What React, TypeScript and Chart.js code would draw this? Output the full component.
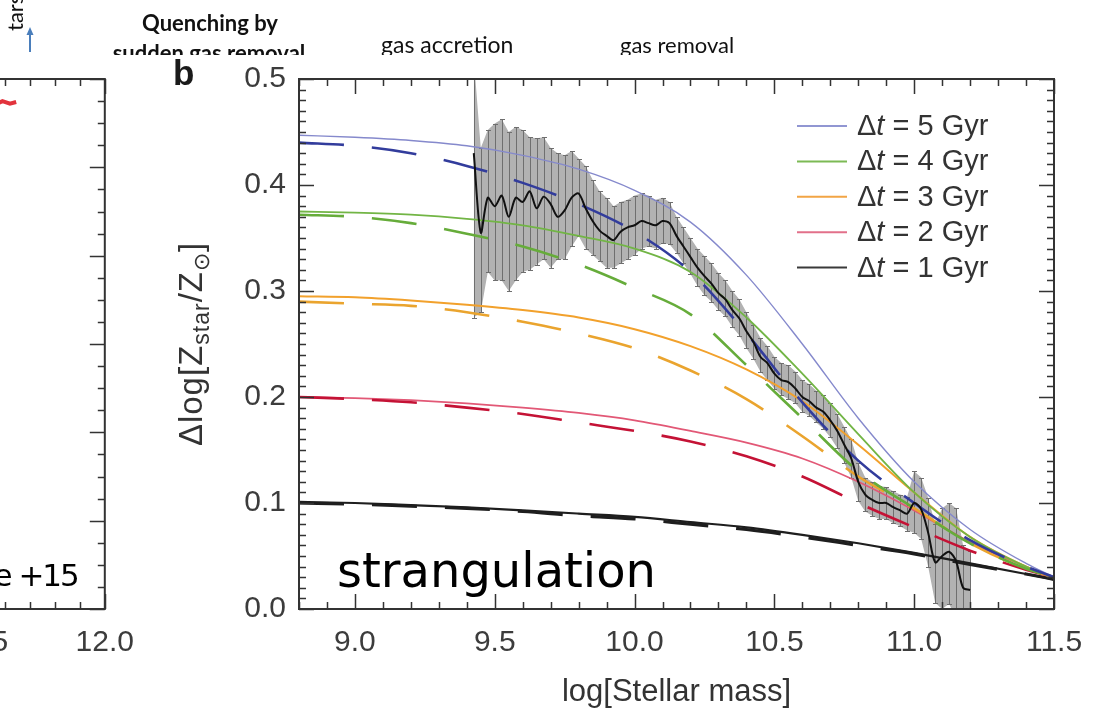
import React, { useEffect, useRef } from "react";
import { Chart, registerables } from "chart.js";

Chart.register(...registerables);

const SANS = '"Liberation Sans", Arial, Helvetica, sans-serif';
const HUMANIST = 'Lato, "Open Sans", sans-serif';
const HAND = '"DejaVu Sans", sans-serif';

// ---- model curves: metallicity offset vs. stellar mass ----
const massGrid = [8.8, 9.0, 9.2, 9.4, 9.6, 9.8, 10.0, 10.2, 10.4, 10.6, 10.8, 11.0, 11.2, 11.4, 11.5];

const solid5 = [0.447, 0.445, 0.442, 0.437, 0.428, 0.415, 0.395, 0.365, 0.315, 0.25, 0.18, 0.12, 0.075, 0.043, 0.03];
const dashed5 = [0.44, 0.437, 0.43, 0.418, 0.402, 0.382, 0.356, 0.318, 0.26, 0.195, 0.14, 0.1, 0.065, 0.04, 0.03];
const solid4 = [0.375, 0.374, 0.372, 0.368, 0.362, 0.352, 0.34, 0.318, 0.275, 0.222, 0.165, 0.11, 0.068, 0.04, 0.03];
const dashed4 = [0.372, 0.37, 0.364, 0.354, 0.342, 0.325, 0.303, 0.278, 0.23, 0.18, 0.13, 0.095, 0.062, 0.038, 0.03];
const solid3 = [0.295, 0.294, 0.291, 0.287, 0.282, 0.275, 0.264, 0.248, 0.226, 0.196, 0.155, 0.11, 0.068, 0.04, 0.03];
const dashed3 = [0.29, 0.288, 0.286, 0.28, 0.271, 0.26, 0.246, 0.225, 0.198, 0.163, 0.125, 0.095, 0.062, 0.038, 0.03];
const solid2 = [0.2, 0.199, 0.197, 0.194, 0.19, 0.185, 0.178, 0.168, 0.157, 0.142, 0.12, 0.093, 0.063, 0.04, 0.03];
const dashed2 = [0.2, 0.198, 0.195, 0.19, 0.184, 0.176, 0.168, 0.158, 0.144, 0.125, 0.1, 0.077, 0.055, 0.037, 0.03];
const solid1 = [0.101, 0.1, 0.098, 0.096, 0.093, 0.09, 0.087, 0.082, 0.077, 0.07, 0.062, 0.053, 0.043, 0.033, 0.028];
const dashed1 = [0.1, 0.099, 0.097, 0.095, 0.092, 0.088, 0.085, 0.08, 0.075, 0.068, 0.06, 0.052, 0.042, 0.033, 0.028];

// ---- observed stacked difference with its error bars ----
const massObs = [
  9.425, 9.45, 9.475, 9.5, 9.525, 9.55, 9.575, 9.6, 9.625, 9.65,
  9.675, 9.7, 9.725, 9.75, 9.775, 9.8, 9.825, 9.85, 9.875, 9.9,
  9.925, 9.95, 9.975, 10.0, 10.025, 10.05, 10.075, 10.1, 10.125, 10.15,
  10.175, 10.2, 10.225, 10.25, 10.275, 10.3, 10.325, 10.35, 10.375, 10.4,
  10.425, 10.45, 10.475, 10.5, 10.525, 10.55, 10.575, 10.6, 10.625, 10.65,
  10.675, 10.7, 10.725, 10.75, 10.775, 10.8, 10.825, 10.85, 10.875, 10.9,
  10.925, 10.95, 10.975, 11.0, 11.025, 11.05, 11.075, 11.1, 11.125, 11.15,
  11.175, 11.2,
];
const metalObs = [
  0.43, 0.355, 0.388, 0.38, 0.39, 0.37, 0.388, 0.384, 0.394, 0.378,
  0.389, 0.382, 0.37, 0.376, 0.388, 0.392, 0.378, 0.366, 0.357, 0.352,
  0.348, 0.356, 0.36, 0.362, 0.366, 0.364, 0.362, 0.366, 0.364, 0.352,
  0.342, 0.332, 0.322, 0.314, 0.307, 0.298, 0.292, 0.282, 0.274, 0.262,
  0.252, 0.238, 0.232, 0.222, 0.216, 0.214, 0.208, 0.2, 0.196, 0.19,
  0.186, 0.178, 0.168, 0.155, 0.142, 0.12, 0.108, 0.103, 0.1, 0.1,
  0.096, 0.093, 0.09, 0.1, 0.094, 0.072, 0.044, 0.05, 0.054, 0.045,
  0.02, 0.018,
];
const upperObs = [
  0.52, 0.435, 0.452, 0.458, 0.462, 0.45, 0.455, 0.452, 0.445, 0.444,
  0.445, 0.435, 0.43, 0.428, 0.432, 0.425, 0.418, 0.405, 0.394, 0.388,
  0.38, 0.384, 0.386, 0.39, 0.392, 0.39, 0.386, 0.388, 0.384, 0.37,
  0.36, 0.35, 0.34, 0.333, 0.326, 0.317, 0.31, 0.3, 0.292, 0.28,
  0.268, 0.256, 0.248, 0.238, 0.232, 0.23, 0.224, 0.216, 0.212, 0.206,
  0.202, 0.194, 0.184, 0.172, 0.16, 0.138, 0.124, 0.12, 0.116, 0.115,
  0.111, 0.108, 0.106, 0.13, 0.124, 0.105, 0.08, 0.095, 0.1, 0.095,
  0.06, 0.055,
];
const lowerObs = [
  0.275, 0.28, 0.318, 0.31, 0.31, 0.3, 0.31, 0.318, 0.32, 0.325,
  0.33, 0.322, 0.33, 0.33, 0.342, 0.352, 0.34, 0.334, 0.328, 0.322,
  0.322, 0.326, 0.33, 0.334, 0.34, 0.342, 0.34, 0.345, 0.344, 0.336,
  0.326, 0.316, 0.305, 0.296, 0.29, 0.282, 0.276, 0.266, 0.258, 0.246,
  0.236, 0.224, 0.216, 0.208, 0.202, 0.198, 0.194, 0.186, 0.182, 0.176,
  0.17, 0.162, 0.152, 0.138, 0.124, 0.102, 0.092, 0.088, 0.085, 0.085,
  0.081, 0.078, 0.074, 0.072, 0.066, 0.04, 0.006, 0.0, 0.005, -0.01,
  -0.02, -0.02,
];

const xTickValues = [9.0, 9.5, 10.0, 10.5, 11.0, 11.5];
const yTickValues = [0.0, 0.1, 0.2, 0.3, 0.4, 0.5];
const legendLabels = ["Δt = 5 Gyr", "Δt = 4 Gyr", "Δt = 3 Gyr", "Δt = 2 Gyr", "Δt = 1 Gyr"];
const legendColors = ["#9196d2", "#7cba55", "#f2a545", "#e2708a", "#3a3a3a"];

// ---- neighbouring panel (only its right edge is in view) ----
const leftTickValues = [9.0, 9.5, 10.0, 10.5, 11.0, 11.5, 12.0];
const leftMass = [11.56, 11.59, 11.62, 11.645];
const leftValue = [0.571, 0.575, 0.572, 0.574];

const pairs = (xs: number[], ys: number[]) => xs.map((x, i) => ({ x, y: ys[i] }));

const curveStyles = [
  { values: dashed5, color: "#323c9c", width: 2.6, dashed: true },
  { values: dashed4, color: "#66ac3a", width: 2.6, dashed: true },
  { values: dashed3, color: "#eaa42e", width: 2.6, dashed: true },
  { values: dashed2, color: "#c41235", width: 2.6, dashed: true },
  { values: dashed1, color: "#1e1e1e", width: 3.2, dashed: true },
  { values: solid5, color: "#8589cc", width: 1.4, dashed: false },
  { values: solid4, color: "#72b545", width: 1.8, dashed: false },
  { values: solid3, color: "#f2a12c", width: 2.0, dashed: false },
  { values: solid2, color: "#e25876", width: 1.8, dashed: false },
  { values: solid1, color: "#1e1e1e", width: 2.2, dashed: false },
];

// Inward-pointing ticks on all four sides plus a closed frame.
const axisFrame = {
  id: "axisFrame",
  afterDatasetsDraw(chart: any, _args: any, opts: any) {
    const { ctx, chartArea: a } = chart;
    const xs = chart.scales.x;
    const ys = chart.scales.y;
    const steps = (min: number, max: number, step: number) => {
      const out: number[] = [];
      for (let i = Math.ceil(min / step - 1e-6); i * step <= max + 1e-6; i++) out.push(i * step);
      return out;
    };
    const isMajor = (v: number, major: number) => Math.abs(v / major - Math.round(v / major)) < 1e-4;
    ctx.save();
    ctx.strokeStyle = "#333";
    ctx.lineWidth = 1.5;
    ctx.beginPath();
    for (const v of steps(xs.min, xs.max, opts.xMinor)) {
      const px = Math.round(xs.getPixelForValue(v)) + 0.5;
      const len = isMajor(v, opts.xMajor) ? opts.majorLen : opts.minorLen;
      ctx.moveTo(px, a.bottom);
      ctx.lineTo(px, a.bottom - len);
      ctx.moveTo(px, a.top);
      ctx.lineTo(px, a.top + len);
    }
    for (const v of steps(ys.min, ys.max, opts.yMinor)) {
      const py = Math.round(ys.getPixelForValue(v)) + 0.5;
      const len = isMajor(v, opts.yMajor) ? opts.majorLen : opts.minorLen;
      ctx.moveTo(a.left, py);
      ctx.lineTo(a.left + len, py);
      ctx.moveTo(a.right, py);
      ctx.lineTo(a.right - len, py);
    }
    ctx.stroke();
    ctx.lineWidth = 2;
    ctx.strokeRect(a.left, a.top, a.right - a.left, a.bottom - a.top);
    ctx.restore();
  },
};

// Vertical error bars of the observed curve, drawn right after the grey band.
const errorBars = {
  id: "errorBars",
  afterDatasetDraw(chart: any, args: any) {
    if (args.index !== 1) return;
    const { ctx, chartArea: a } = chart;
    const xs = chart.scales.x;
    const ys = chart.scales.y;
    const up = chart.data.datasets[0].data;
    const lo = chart.data.datasets[1].data;
    ctx.save();
    ctx.beginPath();
    ctx.rect(a.left, a.top, a.right - a.left, a.bottom - a.top);
    ctx.clip();
    ctx.strokeStyle = "#6f6f6f";
    ctx.lineWidth = 1;
    ctx.beginPath();
    up.forEach((p: any, i: number) => {
      const px = Math.round(xs.getPixelForValue(p.x)) + 0.5;
      const t = Math.round(ys.getPixelForValue(p.y)) + 0.5;
      const b = Math.round(ys.getPixelForValue(lo[i].y)) + 0.5;
      ctx.moveTo(px, t);
      ctx.lineTo(px, b);
      ctx.moveTo(px - 2.5, t);
      ctx.lineTo(px + 2.5, t);
      ctx.moveTo(px - 2.5, b);
      ctx.lineTo(px + 2.5, b);
    });
    ctx.stroke();
    ctx.restore();
  },
};

// Slide captions, panel letter, axis titles, legend and annotation.
const figureText = {
  id: "figureText",
  beforeDraw(chart: any) {
    const { ctx } = chart;
    ctx.save();
    ctx.beginPath();
    ctx.rect(0, 0, chart.width, 55);
    ctx.clip();
    ctx.fillStyle = "#111";
    ctx.textBaseline = "alphabetic";
    ctx.textAlign = "center";
    ctx.font = `bold 22px ${HUMANIST}`;
    ctx.fillText("Quenching by", 210, 31);
    ctx.fillText("sudden gas removal", 209, 61);
    ctx.textAlign = "left";
    ctx.font = `23px ${HUMANIST}`;
    ctx.fillText("gas accretion", 381, 53);
    ctx.font = `22px ${HUMANIST}`;
    ctx.fillText("gas removal", 620, 53);
    // rotated caption fragment
    ctx.save();
    ctx.translate(23, 31);
    ctx.rotate(-Math.PI / 2);
    ctx.font = `22px ${HUMANIST}`;
    ctx.fillText("tars", 0, 0);
    ctx.restore();
    // small blue arrow
    ctx.strokeStyle = "#4a7ebb";
    ctx.fillStyle = "#4a7ebb";
    ctx.lineWidth = 2;
    ctx.beginPath();
    ctx.moveTo(30, 52);
    ctx.lineTo(30, 34);
    ctx.stroke();
    ctx.beginPath();
    ctx.moveTo(30, 27);
    ctx.lineTo(26.5, 35);
    ctx.lineTo(33.5, 35);
    ctx.closePath();
    ctx.fill();
    ctx.restore();
  },
  afterDraw(chart: any) {
    const { ctx, chartArea: a } = chart;
    ctx.save();
    ctx.fillStyle = "#1a1a1a";
    // panel letter
    ctx.textAlign = "left";
    ctx.textBaseline = "alphabetic";
    ctx.font = `bold 35px ${SANS}`;
    ctx.fillText("b", 173, 85);
    // x title
    ctx.fillStyle = "#333";
    ctx.textAlign = "center";
    ctx.font = `31px ${SANS}`;
    ctx.fillText("log[Stellar mass]", (a.left + a.right) / 2, 701);
    // y title with subscripts
    const pieces: [string, number, number][] = [
      ["Δlog[Z", 33, 0],
      ["star", 23, 7],
      ["/Z", 33, 0],
      ["⊙", 22, 7],
      ["]", 33, 0],
    ];
    ctx.save();
    (ctx as any).letterSpacing = "1px";
    let total = 0;
    for (const [s, f] of pieces) {
      ctx.font = `${f}px ${SANS}`;
      total += ctx.measureText(s).width;
    }
    ctx.translate(202, (a.top + a.bottom) / 2);
    ctx.rotate(-Math.PI / 2);
    ctx.textAlign = "left";
    let cx = -total / 2;
    for (const [s, f, shift] of pieces) {
      ctx.font = `${f}px ${SANS}`;
      ctx.fillText(s, cx, shift);
      cx += ctx.measureText(s).width;
    }
    ctx.restore();
    // legend
    const lx = a.right - 257;
    ctx.textAlign = "left";
    ctx.textBaseline = "middle";
    legendLabels.forEach((label, i) => {
      const ly = a.top + 47 + i * 35.4;
      ctx.strokeStyle = legendColors[i];
      ctx.lineWidth = 2;
      ctx.beginPath();
      ctx.moveTo(lx, ly);
      ctx.lineTo(lx + 50, ly);
      ctx.stroke();
      ctx.fillStyle = "#333";
      let tx = lx + 60;
      const ty = ly + 1;
      ctx.font = `29px ${SANS}`;
      ctx.fillText(label[0], tx, ty);
      tx += ctx.measureText(label[0]).width;
      ctx.font = `italic 29px ${SANS}`;
      ctx.fillText(label[1], tx, ty);
      tx += ctx.measureText(label[1]).width;
      ctx.font = `29px ${SANS}`;
      (ctx as any).wordSpacing = "5px";
      ctx.fillText(label.slice(2), tx, ty);
      (ctx as any).wordSpacing = "0px";
    });
    // annotation
    ctx.fillStyle = "#000";
    ctx.textBaseline = "alphabetic";
    ctx.font = `48px ${HAND}`;
    ctx.fillText("strangulation", 337, 587);
    ctx.restore();
  },
};

const leftText = {
  id: "leftText",
  afterDraw(chart: any) {
    const { ctx, chartArea: a } = chart;
    ctx.save();
    ctx.fillStyle = "#000";
    ctx.textAlign = "right";
    ctx.textBaseline = "alphabetic";
    ctx.font = `31px ${HAND}`;
    (ctx as any).letterSpacing = "-2px";
    ctx.fillText("e +15", a.right - 27, 586);
    ctx.restore();
  },
};

const tickFont = { family: SANS, size: 30 };

function mainConfig(): any {
  const datasets: any[] = [
    {
      data: pairs(massObs, upperObs),
      borderColor: "rgba(0,0,0,0)",
      borderWidth: 0,
      backgroundColor: "#b2b2b2",
      fill: "+1",
      pointRadius: 0,
      order: 12,
    },
    {
      data: pairs(massObs, lowerObs),
      borderColor: "rgba(0,0,0,0)",
      borderWidth: 0,
      fill: false,
      pointRadius: 0,
      order: 11,
    },
    ...curveStyles.map((c) => ({
      data: pairs(massGrid, c.values),
      borderColor: c.color,
      borderWidth: c.width,
      borderDash: c.dashed ? [45, 28] : [],
      cubicInterpolationMode: "monotone",
      pointRadius: 0,
      fill: false,
      order: 5,
    })),
    {
      data: pairs(massObs, metalObs),
      borderColor: "#111",
      borderWidth: 2,
      tension: 0.3,
      pointRadius: 0,
      fill: false,
      order: 0,
    },
  ];
  return {
    type: "line",
    data: { datasets },
    plugins: [axisFrame, errorBars, figureText],
    options: {
      animation: false,
      responsive: false,
      maintainAspectRatio: false,
      devicePixelRatio: 1,
      events: [],
      layout: { padding: { left: 0, right: 46, top: 79, bottom: 0 } },
      plugins: {
        legend: { display: false },
        tooltip: { enabled: false },
        axisFrame: { xMajor: 0.5, xMinor: 0.1, yMajor: 0.1, yMinor: 0.01, majorLen: 15, minorLen: 7 },
      },
      scales: {
        x: {
          type: "linear",
          min: 8.8,
          max: 11.5,
          afterBuildTicks: (s: any) => {
            s.ticks = xTickValues.map((v) => ({ value: v }));
          },
          afterFit: (s: any) => {
            s.height = 103;
          },
          grid: { display: false, drawTicks: false },
          border: { display: false },
          ticks: {
            font: tickFont,
            color: "#3c3c3c",
            padding: 16,
            autoSkip: false,
            maxRotation: 0,
            callback: (v: any) => Number(v).toFixed(1),
          },
        },
        y: {
          type: "linear",
          min: 0,
          max: 0.5,
          afterBuildTicks: (s: any) => {
            s.ticks = yTickValues.map((v) => ({ value: v }));
          },
          afterFit: (s: any) => {
            s.width = 299;
          },
          grid: { display: false, drawTicks: false },
          border: { display: false },
          ticks: {
            font: tickFont,
            color: "#3c3c3c",
            padding: 13,
            autoSkip: false,
            callback: (v: any) => Number(v).toFixed(1),
          },
        },
      },
    },
  };
}

function leftConfig(): any {
  return {
    type: "line",
    data: {
      datasets: [
        {
          data: pairs(leftMass, leftValue),
          borderColor: "#e2333c",
          borderWidth: 4,
          pointRadius: 0,
          fill: false,
        },
      ],
    },
    plugins: [axisFrame, leftText],
    options: {
      animation: false,
      responsive: false,
      maintainAspectRatio: false,
      devicePixelRatio: 1,
      events: [],
      layout: { padding: { left: 0, right: 44, top: 79, bottom: 0 } },
      plugins: {
        legend: { display: false },
        tooltip: { enabled: false },
        axisFrame: { xMajor: 0.5, xMinor: 0.1, yMajor: 0.1, yMinor: 0.025, majorLen: 15, minorLen: 7 },
      },
      scales: {
        x: {
          type: "linear",
          min: 8.8,
          max: 12.0,
          afterBuildTicks: (s: any) => {
            s.ticks = leftTickValues.map((v) => ({ value: v }));
          },
          afterFit: (s: any) => {
            s.height = 103;
          },
          grid: { display: false, drawTicks: false },
          border: { display: false },
          ticks: {
            font: tickFont,
            color: "#3c3c3c",
            padding: 16,
            autoSkip: false,
            maxRotation: 0,
            callback: (v: any) => Number(v).toFixed(1),
          },
        },
        y: {
          type: "linear",
          min: 0,
          max: 0.6,
          afterFit: (s: any) => {
            s.width = 26;
          },
          grid: { display: false, drawTicks: false },
          border: { display: false },
          ticks: { display: false },
        },
      },
    },
  };
}

export default function App() {
  const leftRef = useRef<HTMLCanvasElement>(null);
  const mainRef = useRef<HTMLCanvasElement>(null);

  useEffect(() => {
    const left = new Chart(leftRef.current as HTMLCanvasElement, leftConfig());
    const main = new Chart(mainRef.current as HTMLCanvasElement, mainConfig());
    return () => {
      left.destroy();
      main.destroy();
    };
  }, []);

  return (
    <div
      style={{
        position: "absolute",
        left: 0,
        top: 0,
        width: 1100,
        height: 712,
        overflow: "hidden",
        background: "#fff",
      }}
    >
      <canvas
        ref={leftRef}
        width={870}
        height={712}
        style={{ position: "absolute", left: -720, top: 0, width: 870, height: 712 }}
      />
      <canvas
        ref={mainRef}
        width={1100}
        height={712}
        style={{ position: "absolute", left: 0, top: 0, width: 1100, height: 712 }}
      />
    </div>
  );
}
